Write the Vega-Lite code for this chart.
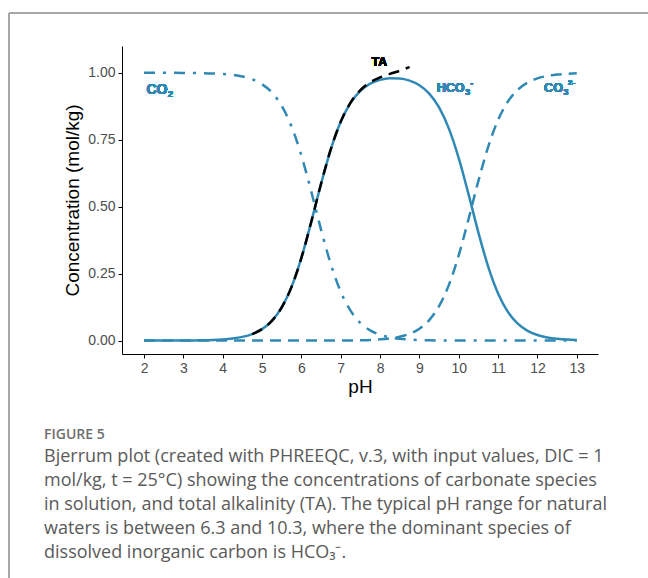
{
  "$schema": "https://vega.github.io/schema/vega-lite/v6.json",
  "width": 476,
  "height": 308,
  "autosize": {"type": "none"},
  "padding": {"left": 122, "top": 46, "right": 50, "bottom": 224},
  "background": "white",
  "config": {
    "view": {"stroke": null},
    "font": "Liberation Sans",
    "axis": {
      "domainColor": "black", "domainWidth": 1, "tickColor": "black", "tickSize": 4, "tickWidth": 1,
      "labelColor": "#4d4d4d", "labelFontSize": 14, "labelFont": "Liberation Sans",
      "titleColor": "black", "titleFontSize": 19, "titleFontWeight": "normal", "titleFont": "Liberation Sans",
      "grid": false
    },
    "text": {"font": "Liberation Sans", "fontWeight": "bold", "color": "#3089b5", "align": "left", "baseline": "middle"}
  },
  "title": {
    "text": "FIGURE 5",
    "subtitle": [
      "Bjerrum plot (created with PHREEQC, v.3, with input values, DIC = 1",
      "mol/kg, t = 25°C) showing the concentrations of carbonate species",
      "in solution, and total alkalinity (TA). The typical pH range for natural",
      "waters is between 6.3 and 10.3, where the dominant species of",
      "dissolved inorganic carbon is HCO₃⁻."
    ],
    "orient": "top",
    "anchor": "start",
    "frame": "group",
    "dx": -78,
    "offset": -549,
    "font": "Open Sans",
    "fontSize": 14,
    "fontWeight": 600,
    "color": "#6e6e6e",
    "subtitleFont": "Open Sans",
    "subtitleFontSize": 18,
    "subtitleColor": "#5a5a5a",
    "subtitleFontWeight": "normal",
    "subtitleLineHeight": 24,
    "subtitlePadding": 6
  },
  "data": {"values": [
    {"pH": 2.00, "CO2": 1.0000, "HCO3": 0.0000, "CO3": 0.0},
    {"pH": 2.25, "CO2": 0.9999, "HCO3": 0.0001, "CO3": 0.0},
    {"pH": 2.50, "CO2": 0.9999, "HCO3": 0.0001, "CO3": 0.0},
    {"pH": 2.75, "CO2": 0.9997, "HCO3": 0.0003, "CO3": 0.0},
    {"pH": 3.00, "CO2": 0.9996, "HCO3": 0.0004, "CO3": 0.0},
    {"pH": 3.25, "CO2": 0.9992, "HCO3": 0.0008, "CO3": 0.0},
    {"pH": 3.50, "CO2": 0.9986, "HCO3": 0.0014, "CO3": 0.0},
    {"pH": 3.75, "CO2": 0.9975, "HCO3": 0.0025, "CO3": 0.0},
    {"pH": 4.00, "CO2": 0.9956, "HCO3": 0.0044, "CO3": 0.0},
    {"pH": 4.25, "CO2": 0.9921, "HCO3": 0.0079, "CO3": 0.0},
    {"pH": 4.50, "CO2": 0.9861, "HCO3": 0.0139, "CO3": 0.0},
    {"pH": 4.75, "CO2": 0.9755, "HCO3": 0.0245, "CO3": 0.0, "TA": 0.0245},
    {"pH": 5.00, "CO2": 0.9572, "HCO3": 0.0428, "CO3": 0.0, "TA": 0.0428},
    {"pH": 5.25, "CO2": 0.9264, "HCO3": 0.0736, "CO3": 0.0, "TA": 0.0736},
    {"pH": 5.50, "CO2": 0.8762, "HCO3": 0.1238, "CO3": 0.0, "TA": 0.1238},
    {"pH": 5.75, "CO2": 0.7993, "HCO3": 0.2007, "CO3": 0.0, "TA": 0.2007},
    {"pH": 6.00, "CO2": 0.6912, "HCO3": 0.3088, "CO3": 0.0, "TA": 0.3088},
    {"pH": 6.25, "CO2": 0.5573, "HCO3": 0.4427, "CO3": 0.0, "TA": 0.4427},
    {"pH": 6.50, "CO2": 0.4145, "HCO3": 0.5855, "CO3": 0.0001, "TA": 0.5857},
    {"pH": 6.75, "CO2": 0.2847, "HCO3": 0.7151, "CO3": 0.0002, "TA": 0.7155},
    {"pH": 7.00, "CO2": 0.1829, "HCO3": 0.8168, "CO3": 0.0004, "TA": 0.8176},
    {"pH": 7.25, "CO2": 0.1117, "HCO3": 0.8875, "CO3": 0.0007, "TA": 0.8889},
    {"pH": 7.50, "CO2": 0.0660, "HCO3": 0.9326, "CO3": 0.0014, "TA": 0.9354},
    {"pH": 7.75, "CO2": 0.0382, "HCO3": 0.9593, "CO3": 0.0025, "TA": 0.9643},
    {"pH": 8.00, "CO2": 0.0218, "HCO3": 0.9736, "CO3": 0.0046, "TA": 0.9828},
    {"pH": 8.25, "CO2": 0.0123, "HCO3": 0.9795, "CO3": 0.0081, "TA": 0.9957},
    {"pH": 8.50, "CO2": 0.0069, "HCO3": 0.9786, "CO3": 0.0145, "TA": 1.0076},
    {"pH": 8.75, "CO2": 0.0039, "HCO3": 0.9706, "CO3": 0.0255, "TA": 1.0216},
    {"pH": 9.00, "CO2": 0.0021, "HCO3": 0.9533, "CO3": 0.0446},
    {"pH": 9.25, "CO2": 0.0012, "HCO3": 0.9221, "CO3": 0.0767},
    {"pH": 9.50, "CO2": 0.0006, "HCO3": 0.8706, "CO3": 0.1288},
    {"pH": 9.75, "CO2": 0.0003, "HCO3": 0.7915, "CO3": 0.2082},
    {"pH": 10.00, "CO2": 0.0002, "HCO3": 0.6812, "CO3": 0.3186},
    {"pH": 10.25, "CO2": 0.0001, "HCO3": 0.5459, "CO3": 0.4541},
    {"pH": 10.50, "CO2": 0.0, "HCO3": 0.4034, "CO3": 0.5966},
    {"pH": 10.75, "CO2": 0.0, "HCO3": 0.2755, "CO3": 0.7245},
    {"pH": 11.00, "CO2": 0.0, "HCO3": 0.1761, "CO3": 0.8239},
    {"pH": 11.25, "CO2": 0.0, "HCO3": 0.1073, "CO3": 0.8927},
    {"pH": 11.50, "CO2": 0.0, "HCO3": 0.0633, "CO3": 0.9367},
    {"pH": 11.75, "CO2": 0.0, "HCO3": 0.0366, "CO3": 0.9634},
    {"pH": 12.00, "CO2": 0.0, "HCO3": 0.0209, "CO3": 0.9791},
    {"pH": 12.25, "CO2": 0.0, "HCO3": 0.0119, "CO3": 0.9881},
    {"pH": 12.50, "CO2": 0.0, "HCO3": 0.0067, "CO3": 0.9933},
    {"pH": 12.75, "CO2": 0.0, "HCO3": 0.0038, "CO3": 0.9962},
    {"pH": 13.00, "CO2": 0.0, "HCO3": 0.0021, "CO3": 0.9979}
  ]},
  "layer": [
    {
      "mark": {"type": "line", "color": "#3089b5", "strokeWidth": 2.5, "strokeDash": [11, 8, 3, 8], "interpolate": "monotone"},
      "encoding": {
        "x": {"field": "pH", "type": "quantitative", "title": "pH",
              "scale": {"domain": [1.44, 13.54], "nice": false, "zero": false},
              "axis": {"values": [2,3,4,5,6,7,8,9,10,11,12,13], "labelPadding": 3, "titlePadding": 2}},
        "y": {"field": "CO2", "type": "quantitative", "title": "Concentration (mol/kg)",
              "scale": {"domain": [-0.05, 1.1], "nice": false, "zero": false},
              "axis": {"values": [0, 0.25, 0.5, 0.75, 1], "format": ".2f", "labelPadding": 3, "titlePadding": 5}}
      }
    },
    {
      "mark": {"type": "line", "color": "#3089b5", "strokeWidth": 2.5, "interpolate": "monotone"},
      "encoding": {
        "x": {"field": "pH", "type": "quantitative"},
        "y": {"field": "HCO3", "type": "quantitative"}
      }
    },
    {
      "mark": {"type": "line", "color": "#3089b5", "strokeWidth": 2.5, "strokeDash": [11, 7], "interpolate": "monotone"},
      "encoding": {
        "x": {"field": "pH", "type": "quantitative"},
        "y": {"field": "CO3", "type": "quantitative"}
      }
    },
    {
      "mark": {"type": "line", "color": "black", "strokeWidth": 2.5, "strokeDash": [11, 7], "interpolate": "monotone"},
      "encoding": {
        "x": {"field": "pH", "type": "quantitative"},
        "y": {"field": "TA", "type": "quantitative"}
      }
    },
    {"mark": {"type": "text", "text": "CO", "fontSize": 14}, "encoding": {"x": {"datum": 2.06}, "y": {"datum": 0.935}}},
    {"mark": {"type": "text", "text": "2", "fontSize": 9, "dx": 21.5, "dy": 4}, "encoding": {"x": {"datum": 2.06}, "y": {"datum": 0.935}}},
    {"mark": {"type": "text", "text": "HCO", "fontSize": 12.5}, "encoding": {"x": {"datum": 9.44}, "y": {"datum": 0.945}}},
    {"mark": {"type": "text", "text": "3", "fontSize": 8.5, "dx": 28.5, "dy": 4}, "encoding": {"x": {"datum": 9.44}, "y": {"datum": 0.945}}},
    {"mark": {"type": "text", "text": "-", "fontSize": 8.5, "dx": 33.5, "dy": -5}, "encoding": {"x": {"datum": 9.44}, "y": {"datum": 0.945}}},
    {"mark": {"type": "text", "text": "CO", "fontSize": 12.5}, "encoding": {"x": {"datum": 12.17}, "y": {"datum": 0.945}}},
    {"mark": {"type": "text", "text": "3", "fontSize": 8.5, "dx": 19.5, "dy": 4}, "encoding": {"x": {"datum": 12.17}, "y": {"datum": 0.945}}},
    {"mark": {"type": "text", "text": "2-", "fontSize": 8, "dx": 24, "dy": -5}, "encoding": {"x": {"datum": 12.17}, "y": {"datum": 0.945}}},
    {
      "mark": {"type": "text", "text": "TA", "color": "black", "fontSize": 12, "align": "center"},
      "encoding": {"x": {"datum": 7.98}, "y": {"datum": 1.04}}
    },
    {
      "mark": {"type": "rule", "color": "#a8a8a8", "strokeWidth": 1.5},
      "encoding": {"x": {"datum": -1.43}, "y": {"datum": 1.222}, "y2": {"datum": -1.0}}
    },
    {
      "mark": {"type": "rule", "color": "#a8a8a8", "strokeWidth": 1.5},
      "encoding": {"x": {"datum": -1.43}, "x2": {"datum": 15.5}, "y": {"datum": 1.222}}
    }
  ]
}
